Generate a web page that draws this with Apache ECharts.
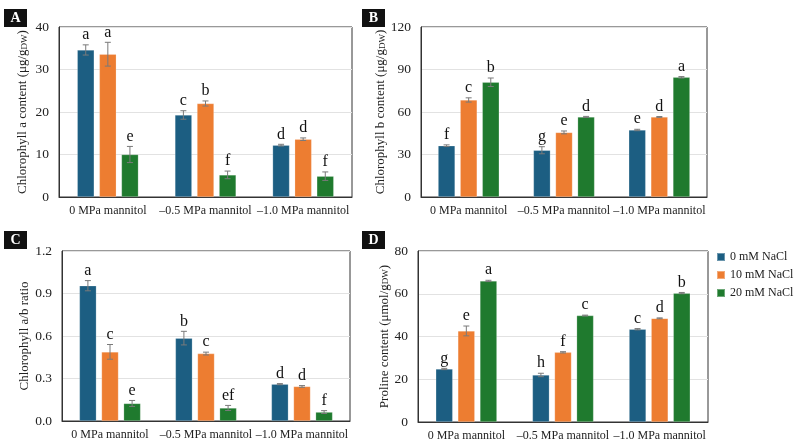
<!DOCTYPE html>
<html>
<head>
<meta charset="utf-8">
<script src="https://cdn.jsdelivr.net/npm/echarts@6/dist/echarts.min.js"></script>
<style>
html,body{margin:0;padding:0;background:#fff;}
#chart{width:794px;height:445px;}
</style>
</head>
<body>
<div id="chart"></div>
<script>
// ---------- data ----------
const categories = ['0 MPa mannitol', '\u20130.5 MPa mannitol', '\u20131.0 MPa mannitol'];
const seriesNames = ['0 mM NaCl', '10 mM NaCl', '20 mM NaCl'];

// Panel A: Chlorophyll a content
const aValues  = [[34.6, 19.3, 12.2], [33.6, 22.0, 13.6], [10.0, 5.2, 4.9]];
const aErrors  = [[1.2, 1.0, 0.2], [2.8, 0.6, 0.3], [1.9, 0.9, 1.0]];
const aLetters = [['a', 'c', 'd'], ['a', 'b', 'd'], ['e', 'f', 'f']];
const aTicks   = {min: 0, max: 40, interval: 10};

// Panel B: Chlorophyll b content
const bValues  = [[36.2, 33.0, 47.3], [68.5, 45.6, 56.5], [81.0, 56.5, 84.5]];
const bErrors  = [[0.6, 2.5, 0.5], [1.5, 1.0, 0.3], [3.0, 0.4, 0.5]];
const bLetters = [['f', 'g', 'e'], ['c', 'e', 'd'], ['b', 'd', 'a']];
const bTicks   = {min: 0, max: 120, interval: 30};

// Panel C: Chlorophyll a/b ratio
const cValues  = [[0.955, 0.585, 0.26], [0.488, 0.476, 0.244], [0.124, 0.092, 0.063]];
const cErrors  = [[0.036, 0.048, 0.004], [0.052, 0.01, 0.006], [0.021, 0.018, 0.01]];
const cLetters = [['a', 'b', 'd'], ['c', 'c', 'd'], ['e', 'ef', 'f']];
const cTicks   = {min: 0, max: 1.2, interval: 0.3};

// Panel D: Proline content
const dValues  = [[24.8, 22.0, 43.4], [42.6, 32.6, 48.5], [66.0, 49.8, 60.3]];
const dErrors  = [[0.3, 0.8, 0.3], [2.3, 0.3, 0.2], [0.3, 0.2, 0.3]];
const dLetters = [['g', 'h', 'c'], ['e', 'f', 'd'], ['a', 'c', 'b']];
const dTicks   = {min: 0, max: 80, interval: 20};

// ---------- style ----------
const colors = ['#1c5e82', '#ed7d31', '#1f7a2e'];
const FONT = '"Liberation Serif", "DejaVu Serif", serif';
const BAR_W = 17;
const BAR_GAP = 0.3;

const panels = [
  {label: 'A', values: aValues, errors: aErrors, letters: aLetters, ticks: aTicks,
   grid: {left: 59, top: 27, width: 293, height: 170},
   name: '{m|Chlorophyll a content (\u03bcg/g}{s|DW}{m|)}', nameGap: 30, box: [4, 9]},
  {label: 'B', values: bValues, errors: bErrors, letters: bLetters, ticks: bTicks,
   grid: {left: 421, top: 27, width: 286, height: 170},
   name: '{m|Chlorophyll b content (\u03bcg/g}{s|DW}{m|)}', nameGap: 30, box: [362, 9]},
  {label: 'C', values: cValues, errors: cErrors, letters: cLetters, ticks: cTicks,
   grid: {left: 62, top: 251, width: 288, height: 170},
   name: '{m|Chlorophyll a/b ratio}', nameGap: 28, box: [4, 231], dec: 1},
  {label: 'D', values: dValues, errors: dErrors, letters: dLetters, ticks: dTicks,
   grid: {left: 418, top: 251, width: 290, height: 171},
   name: '{m|Proline content (\u03bcmol/g}{s|DW}{m|)}', nameGap: 26, box: [362, 231]}
];

const grids = [], xAxes = [], yAxes = [], series = [], graphics = [];

panels.forEach((p, pi) => {
  grids.push(Object.assign({show: true, borderColor: '#333', borderWidth: 1, backgroundColor: 'transparent'}, p.grid));
  xAxes.push({
    type: 'category', gridIndex: pi, data: categories,
    axisTick: {show: false},
    axisLine: {show: true, lineStyle: {color: '#333'}},
    axisLabel: {interval: 0, margin: 8, fontFamily: FONT, fontSize: 12, color: '#222'}
  });
  yAxes.push({
    type: 'value', gridIndex: pi, min: p.ticks.min, max: p.ticks.max, interval: p.ticks.interval,
    axisLine: {show: true, lineStyle: {color: '#333'}},
    axisTick: {show: false},
    splitLine: {lineStyle: {color: '#e2e2e2'}},
    axisLabel: {margin: 10, fontFamily: FONT, fontSize: 13.5, color: '#222',
      formatter: p.dec ? (v => v.toFixed(p.dec)) : null},
    name: p.name, nameLocation: 'middle', nameGap: p.nameGap,
    nameTextStyle: {
      rich: {
        m: {fontFamily: FONT, fontSize: 13, color: '#222', lineHeight: 16, verticalAlign: 'bottom'},
        s: {fontFamily: FONT, fontSize: 9, color: '#222', lineHeight: 16, verticalAlign: 'bottom', padding: [5, 0, 0, 0]}
      }
    }
  });
  for (let si = 0; si < 3; si++) {
    series.push({
      type: 'bar', name: seriesNames[si], xAxisIndex: pi, yAxisIndex: pi,
      data: p.values[si], barWidth: BAR_W, barGap: (BAR_GAP * 100) + '%',
      itemStyle: {color: colors[si], borderColor: 'rgba(255,255,255,0.35)', borderWidth: 0.6},
      emphasis: {disabled: true}
    });
  }
  for (let si = 0; si < 3; si++) {
    const offset = (si - 1) * BAR_W * (1 + BAR_GAP);
    const letters = p.letters[si];
    series.push({
      type: 'custom', xAxisIndex: pi, yAxisIndex: pi, z: 5, silent: true,
      data: p.values[si].map((v, i) => [i, v, p.errors[si][i]]),
      renderItem: function (params, api) {
        const ci = api.value(0), v = api.value(1), e = api.value(2);
        const top = api.coord([ci, v + e]);
        const bot = api.coord([ci, v - e]);
        const x = top[0] + offset;
        const cap = 3;
        const st = {stroke: '#7a7a7a', lineWidth: 1};
        return {
          type: 'group',
          children: [
            {type: 'line', shape: {x1: x, y1: top[1], x2: x, y2: bot[1]}, style: st},
            {type: 'line', shape: {x1: x - cap, y1: top[1], x2: x + cap, y2: top[1]}, style: st},
            {type: 'line', shape: {x1: x - cap, y1: bot[1], x2: x + cap, y2: bot[1]}, style: st},
            {type: 'text', x: x, y: top[1] - 2,
             style: {text: letters[params.dataIndex], textAlign: 'center', textVerticalAlign: 'bottom',
                     fontFamily: FONT, fontSize: 16, fill: '#111'}}
          ]
        };
      }
    });
  }
  graphics.push({
    type: 'group', left: p.box[0], top: p.box[1],
    children: [
      {type: 'rect', shape: {x: 0, y: 0, width: 23, height: 18}, style: {fill: '#111'}},
      {type: 'text', x: 11.5, y: 9.5, style: {text: p.label, fill: '#fff', fontFamily: FONT, fontWeight: 'bold', fontSize: 14, textAlign: 'center', textVerticalAlign: 'middle'}}
    ]
  });
});

const chart = echarts.init(document.getElementById('chart'), null, {renderer: 'canvas'});
chart.setOption({
  animation: false,
  backgroundColor: '#fff',
  color: colors,
  grid: grids, xAxis: xAxes, yAxis: yAxes, series: series,
  graphic: graphics,
  legend: {
    data: seriesNames, orient: 'vertical', left: 716, top: 251, padding: 0,
    icon: 'rect', itemWidth: 8, itemHeight: 8, itemGap: 6,
    textStyle: {fontFamily: FONT, fontSize: 12, color: '#222'},
    selectedMode: false
  }
});
</script>
</body>
</html>
